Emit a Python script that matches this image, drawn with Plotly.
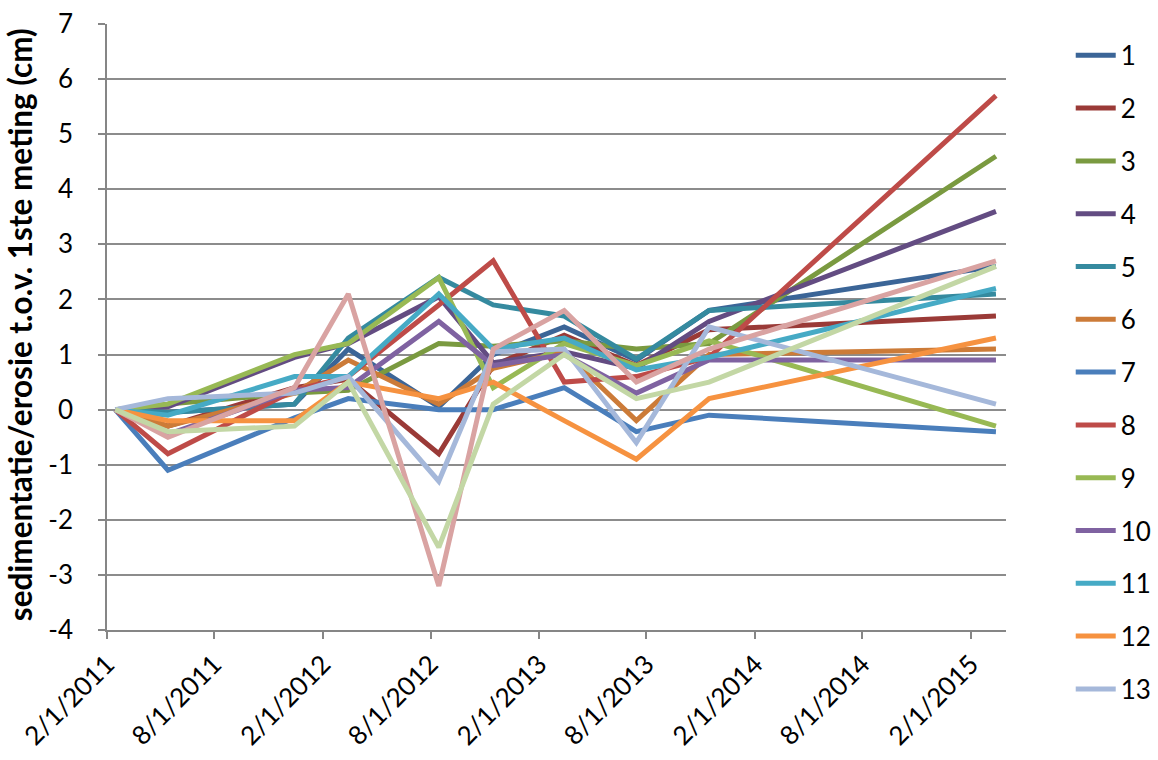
import plotly.graph_objects as go

dates = ["2011-02-15", "2011-05-15", "2011-12-15", "2012-03-15", "2012-08-15",
         "2012-11-15", "2013-03-15", "2013-07-15", "2013-11-15", "2015-03-15"]

s1 = [0, -0.05, 0.1, 1.1, 0.05, 1.0, 1.5, 0.9, 1.8, 2.6]
s2 = [0, -0.3, 0.4, 0.55, -0.8, 0.8, 1.35, 0.8, 1.45, 1.7]
s3 = [0, 0.1, 0.3, 0.35, 1.2, 1.15, 1.25, 1.1, 1.2, 4.6]
s4 = [0, 0.05, 0.95, 1.2, 2.05, 0.85, 1.05, 0.75, 1.6, 3.6]
s5 = [0, -0.05, 0.1, 1.3, 2.4, 1.9, 1.7, 0.92, 1.8, 2.1]
s6 = [0, -0.3, 0.3, 0.9, 0.1, 0.75, 1.05, -0.2, 1.0, 1.1]
s7 = [0, -1.1, -0.15, 0.2, 0.0, 0.0, 0.4, -0.4, -0.1, -0.4]
s8 = [0, -0.8, 0.35, 0.6, 1.9, 2.7, 0.5, 0.6, 0.95, 5.7]
s9 = [0, 0.1, 1.0, 1.2, 2.4, 0.4, 1.2, 0.8, 1.25, -0.3]
s10 = [0, -0.45, 0.35, 0.4, 1.6, 0.8, 1.0, 0.3, 0.9, 0.9]
s11 = [0, -0.1, 0.6, 0.6, 2.1, 1.1, 1.3, 0.72, 0.95, 2.2]
s12 = [0, -0.2, -0.2, 0.5, 0.2, 0.5, -0.2, -0.9, 0.2, 1.3]
s13 = [0, 0.2, 0.3, 0.6, -1.3, 1.05, 1.1, -0.6, 1.5, 0.1]
s14 = [0, -0.5, 0.4, 2.1, -3.2, 1.1, 1.8, 0.5, 1.1, 2.7]
s15 = [0, -0.4, -0.3, 0.5, -2.5, 0.1, 1.0, 0.2, 0.5, 2.6]

series = [s1, s2, s3, s4, s5, s6, s7, s8, s9, s10, s11, s12, s13, s14, s15]
names = [str(i) for i in range(1, 16)]
colors = ["#3B6597", "#9A3A37", "#7A9A40", "#634C82", "#358A9F", "#CC7B38",
          "#4A7EBB", "#BE4B48", "#98B954", "#7F62A1", "#46AAC5", "#F69240",
          "#A5B8DA", "#D9A3A2", "#C3D7A5"]
legend_count = 13

tick_dates = ["2011-02-01", "2011-08-01", "2012-02-01", "2012-08-01", "2013-02-01",
              "2013-08-01", "2014-02-01", "2014-08-01", "2015-02-01"]
y_ticks = list(range(-4, 8))
y_tick_text = [str(v) for v in y_ticks]
y_title = "sedimentatie/erosie t.o.v. 1ste meting (cm)"

FONT = "Lato"
fig = go.Figure()
for i, (vals, nm, col) in enumerate(zip(series, names, colors)):
    fig.add_trace(go.Scatter(
        x=dates, y=vals, name=nm, mode="lines",
        line=dict(color=col, width=5),
        legendgroup=nm, showlegend=i < legend_count,
    ))

fig.add_annotation(
    text="<b>" + y_title + "</b>", textangle=-90,
    xref="paper", yref="paper", x=-0.0968, y=0.5046,
    xanchor="center", yanchor="middle", showarrow=False,
    font=dict(family=FONT, size=31.5, color="black"),
)

fig.update_layout(
    width=1158, height=760,
    margin=dict(l=107, r=152, t=24, b=130, autoexpand=False),
    plot_bgcolor="white", paper_bgcolor="white",
    font=dict(family=FONT, size=26, color="black"),
    legend=dict(
        x=1.072, y=0.987, xanchor="left", yanchor="top",
        traceorder="grouped", tracegroupgap=16, itemwidth=40,
        maxheight=760,
        font=dict(family=FONT, size=26, color="black"),
        bgcolor="rgba(0,0,0,0)",
    ),
    xaxis=dict(
        type="date", range=["2011-02-01", "2015-04-01"], automargin=False,
        tickvals=tick_dates, tickformat="%-m/%-d/%Y", tickangle=-45,
        showgrid=False, showline=True, linecolor="#868686", linewidth=1.5,
        ticks="outside", ticklen=7, tickcolor="#868686", tickwidth=1.5,
        tickfont=dict(family=FONT, size=26), ticklabeloverflow="allow",
    ),
    yaxis=dict(
        range=[-4, 7], tickvals=y_ticks, ticktext=y_tick_text, automargin=False,
        showgrid=True, gridcolor="#8C8C8C", gridwidth=1.5,
        zeroline=False,
        showline=True, linecolor="#868686", linewidth=1.5,
        ticks="outside", ticklen=7, tickcolor="#868686", tickwidth=1.5,
        tickfont=dict(family=FONT, size=26), ticklabeloverflow="allow",
        ticklabelstandoff=20,
    ),
)

fig.write_html("out.html", config={"displayModeBar": False},
               post_script="document.body.style.margin='0';")
